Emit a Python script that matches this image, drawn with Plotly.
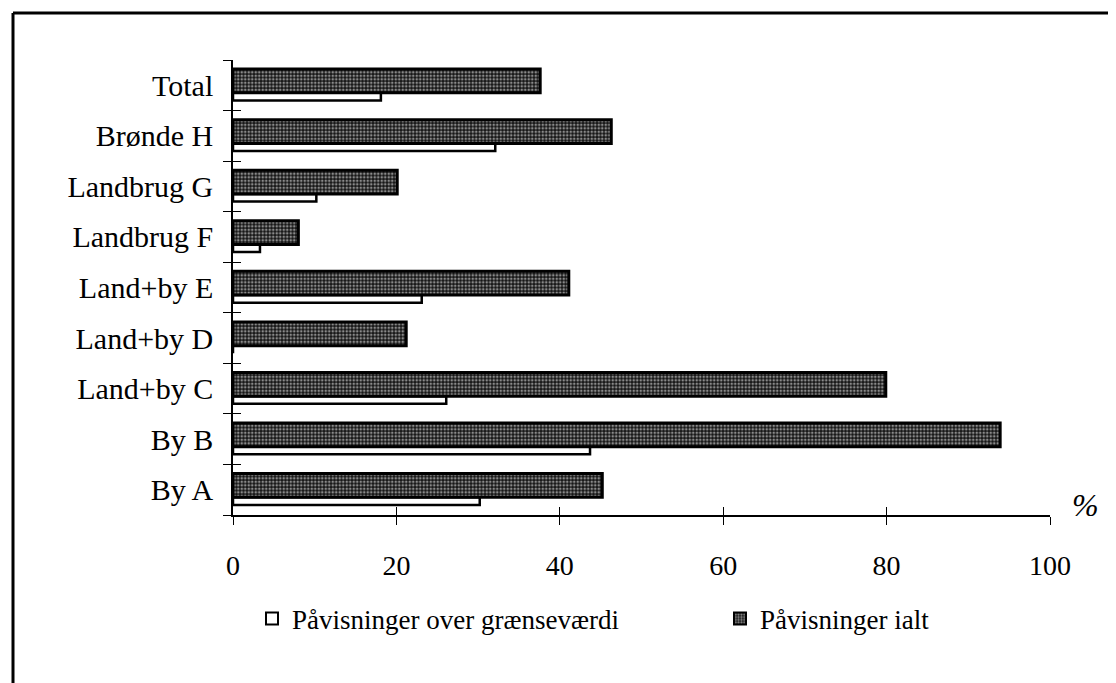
import numpy as np
import plotly.graph_objects as go

categories = ["By A", "By B", "Land+by C", "Land+by D", "Land+by E",
              "Landbrug F", "Landbrug G", "Brønde H", "Total"]
over_graensevaerdi = [30.2, 43.7, 26.1, 0, 23.1, 3.3, 10.2, 32.1, 18.1]
ialt = [45.2, 93.9, 79.9, 21.2, 41.1, 8.0, 20.1, 46.3, 37.6]
x_ticks = [0, 20, 40, 60, 80, 100]

FONT = "Liberation Serif"
FS = 30

# page has an 8px body margin; work in reference pixel coordinates
OFF = 8
W, H = 1116 - OFF, 683 - OFF
X0, X1 = 233 - OFF, 1050 - OFF       # plot area in figure px
Y0, Y1 = 60 - OFF, 515 - OFF
L, R, T, B = X0, W - X1, Y0, H - Y1
pw, ph = X1 - X0, Y1 - Y0

def px_x(p):
    return (p - OFF - X0) / pw

def px_y(p):
    return (Y1 - (p - OFF)) / ph

fig = go.Figure()
fig.add_trace(go.Bar(
    y=categories, x=over_graensevaerdi, orientation="h",
    name="Påvisninger over grænseværdi",
    marker=dict(color="white", line=dict(color="black", width=2.5)),
    width=0.15, offset=-0.30, legend="legend",
))
fig.add_trace(go.Bar(
    y=categories, x=ialt, orientation="h",
    name="Påvisninger ialt",
    marker=dict(color="black", line=dict(color="black", width=3),
                pattern=dict(shape=".", fgcolor="white", bgcolor="#151515",
                             size=3.5, solidity=0.45)),
    width=0.47, offset=-0.15, legend="legend2",
))
# invisible helper trace so the overlay axes (crossing tick halves) are drawn
fig.add_trace(go.Scatter(
    x=ialt, y=list(range(len(categories))), xaxis="x2", yaxis="y2",
    mode="markers", marker=dict(opacity=0), showlegend=False,
    hoverinfo="skip",
))

legend_common = dict(orientation="h", yanchor="middle", xanchor="left",
                     font=dict(family=FONT, size=27), bgcolor="rgba(0,0,0,0)",
                     itemsizing="constant")

fig.update_layout(
    width=W, height=H,
    margin=dict(l=L, r=R, t=T, b=B),
    paper_bgcolor="white", plot_bgcolor="white",
    barmode="overlay",
    font=dict(family=FONT, size=FS, color="black"),
    showlegend=True,
    legend=dict(x=px_x(252), y=px_y(619), **legend_common),
    legend2=dict(x=px_x(720), y=px_y(619), **legend_common),
    xaxis=dict(range=[0, 100], tickvals=x_ticks, showgrid=False, zeroline=False,
               showline=True, linecolor="black", linewidth=1.5,
               ticks="outside", ticklen=8, tickwidth=1.2, tickcolor="black",
               ticklabelstandoff=17, tickfont=dict(family=FONT, size=28)),
    xaxis2=dict(range=[0, 100], tickvals=x_ticks, overlaying="x", anchor="y",
                side="bottom", showgrid=False, zeroline=False, showline=False,
                ticks="inside", ticklen=8, tickwidth=1.2, tickcolor="black",
                showticklabels=False),
    yaxis=dict(type="category", categoryorder="array", categoryarray=categories,
               range=[-0.5, len(categories) - 0.5], tickson="boundaries",
               showgrid=False, zeroline=False, showline=True, linecolor="black",
               linewidth=1.5, ticks="outside", ticklen=8, tickwidth=1.2,
               tickcolor="black", ticklabelstandoff=12,
               tickfont=dict(family=FONT, size=FS)),
    yaxis2=dict(range=[-0.5, len(categories) - 0.5],
                tickvals=list(np.arange(len(categories) + 1) - 0.5),
                overlaying="y", anchor="x", side="left", showgrid=False,
                zeroline=False, showline=False, ticks="inside", ticklen=8,
                tickwidth=1.2, tickcolor="black", showticklabels=False),
    annotations=[dict(text="<i>%</i>", xref="paper", yref="paper",
                      x=px_x(1085), y=px_y(505), showarrow=False,
                      font=dict(family=FONT, size=32), xanchor="center",
                      yanchor="middle")],
    shapes=[
        dict(type="line", xref="paper", yref="paper",
             x0=px_x(13), x1=px_x(1125), y0=px_y(13), y1=px_y(13),
             line=dict(color="black", width=3)),
        dict(type="line", xref="paper", yref="paper",
             x0=px_x(13), x1=px_x(13), y0=px_y(13), y1=px_y(690),
             line=dict(color="black", width=3)),
    ],
)

fig.write_html("out.html")
